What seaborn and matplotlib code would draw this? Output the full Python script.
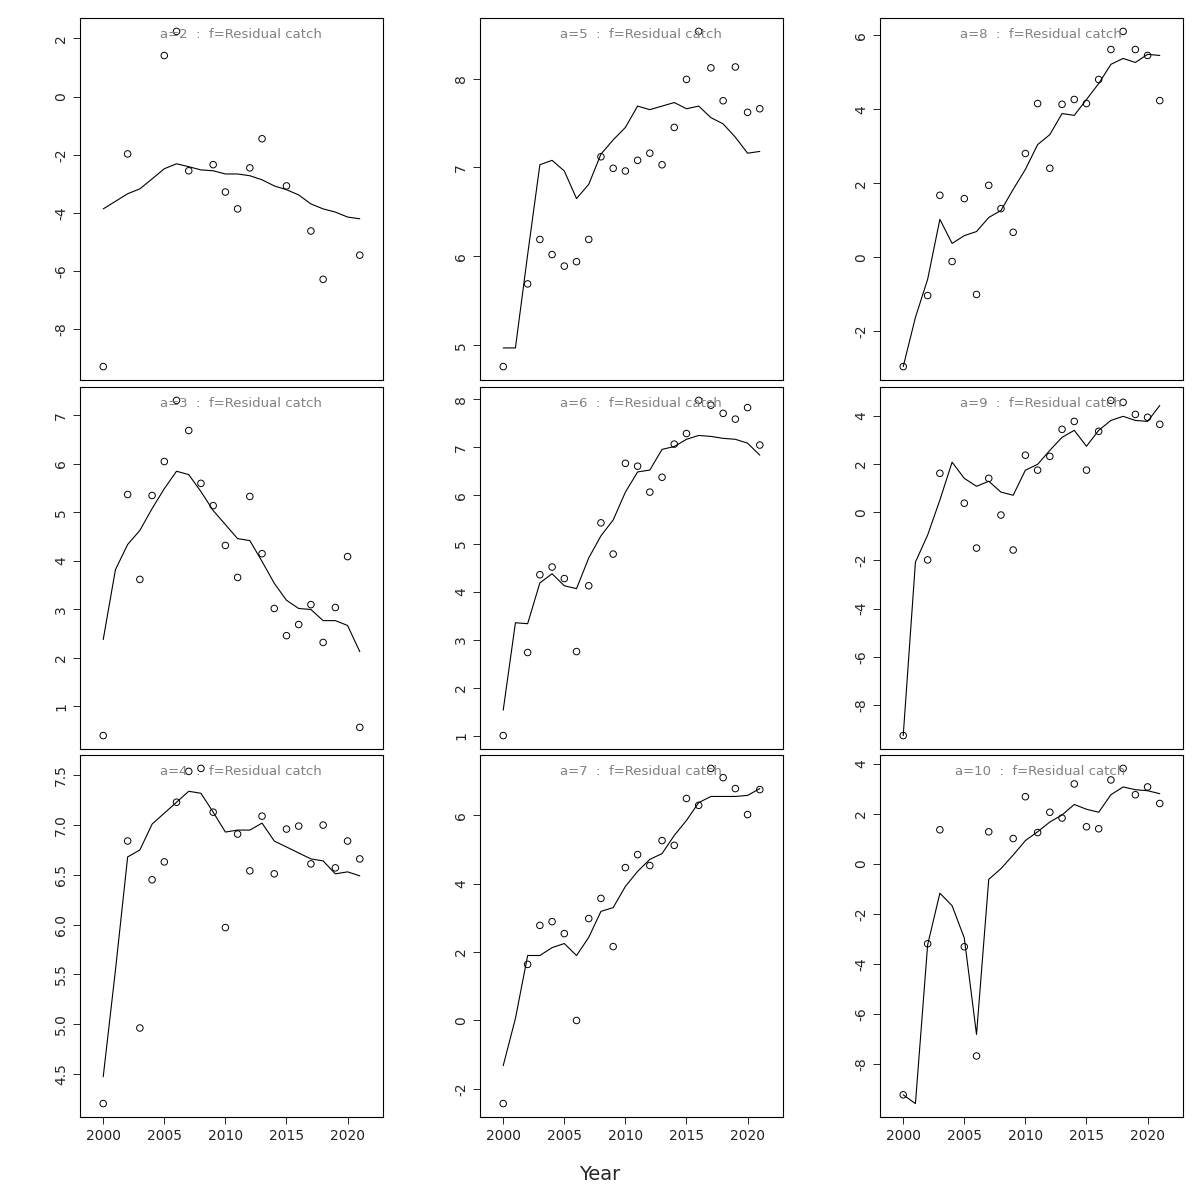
import matplotlib
matplotlib.use('Agg')
import matplotlib.pyplot as plt
import numpy as np
import pandas as pd
import seaborn as sns

sns.set_style('white')
plt.rcParams['font.family'] = ['DejaVu Sans']

years = list(range(2000, 2022))
nan = np.nan

# observed points per age (NaN = no observation)
obs = {
    2: [-9.28, nan, -1.97, nan, nan, 1.41, 2.24, -2.55, nan, -2.34, -3.28, -3.86, -2.45, -1.45, nan, -3.07, nan, -4.62, -6.28, nan, nan, -5.45],
    3: [0.40, nan, 5.37, 3.62, 5.35, 6.05, 7.31, 6.69, 5.60, 5.14, 4.32, 3.66, 5.33, 4.15, 3.02, 2.46, 2.69, 3.10, 2.32, 3.04, 4.09, 0.57],
    4: [4.20, nan, 6.84, 4.96, 6.45, 6.63, 7.23, 7.54, 7.57, 7.13, 5.97, 6.91, 6.54, 7.09, 6.51, 6.96, 6.99, 6.61, 7.00, 6.57, 6.84, 6.66],
    5: [4.76, nan, 5.69, 6.19, 6.02, 5.89, 5.94, 6.19, 7.12, 6.99, 6.96, 7.08, 7.16, 7.03, 7.45, 7.99, 8.53, 8.12, 7.75, 8.13, 7.62, 7.66],
    6: [1.00, nan, 2.73, 4.35, 4.51, 4.27, 2.75, 4.12, 5.43, 4.78, 6.67, 6.61, 6.07, 6.38, 7.07, 7.29, 7.98, 7.88, 7.71, 7.59, 7.83, 7.05],
    7: [-2.43, nan, 1.64, 2.78, 2.89, 2.54, 0.00, 2.98, 3.57, 2.16, 4.47, 4.85, 4.53, 5.26, 5.12, 6.49, 6.29, 7.37, 7.10, 6.78, 6.02, 6.75],
    8: [-2.95, nan, -1.03, 1.68, -0.11, 1.59, -1.00, 1.95, 1.32, 0.68, 2.81, 4.16, 2.41, 4.14, 4.27, 4.16, 4.81, 5.62, 6.11, 5.62, 5.46, 4.24],
    9: [-9.26, nan, -1.98, 1.61, nan, 0.37, -1.49, 1.40, -0.12, -1.57, 2.36, 1.74, 2.31, 3.43, 3.76, 1.74, 3.35, 4.63, 4.55, 4.05, 3.93, 3.64],
    10: [-9.22, nan, -3.19, 1.36, nan, -3.31, -7.67, 1.28, nan, 1.01, 2.68, 1.25, 2.06, 1.83, 3.19, 1.48, 1.40, 3.35, 3.81, 2.76, 3.07, 2.41],
}

# fitted line per age
fit = {
    2: [-3.86, -3.60, -3.34, -3.17, -2.83, -2.48, -2.31, -2.41, -2.52, -2.55, -2.66, -2.66, -2.72, -2.86, -3.07, -3.20, -3.38, -3.69, -3.86, -3.97, -4.14, -4.20],
    3: [2.38, 3.82, 4.34, 4.63, 5.08, 5.49, 5.85, 5.78, 5.43, 5.04, 4.75, 4.46, 4.42, 3.99, 3.54, 3.19, 3.02, 3.00, 2.77, 2.77, 2.67, 2.13],
    4: [4.47, 5.54, 6.68, 6.75, 7.01, 7.12, 7.23, 7.34, 7.32, 7.13, 6.93, 6.95, 6.95, 7.02, 6.84, 6.78, 6.72, 6.66, 6.64, 6.51, 6.53, 6.49],
    5: [4.97, 4.97, 6.02, 7.03, 7.08, 6.96, 6.65, 6.81, 7.15, 7.31, 7.45, 7.69, 7.65, 7.69, 7.73, 7.66, 7.69, 7.56, 7.49, 7.34, 7.16, 7.18],
    6: [1.53, 3.35, 3.33, 4.18, 4.37, 4.12, 4.06, 4.70, 5.16, 5.49, 6.07, 6.49, 6.53, 6.96, 7.02, 7.17, 7.25, 7.23, 7.19, 7.17, 7.09, 6.84],
    7: [-1.32, 0.06, 1.90, 1.90, 2.13, 2.25, 1.90, 2.43, 3.19, 3.30, 3.92, 4.36, 4.71, 4.88, 5.41, 5.85, 6.37, 6.55, 6.55, 6.55, 6.58, 6.78],
    8: [-2.95, -1.62, -0.59, 1.03, 0.38, 0.59, 0.70, 1.08, 1.27, 1.84, 2.38, 3.05, 3.32, 3.89, 3.84, 4.27, 4.70, 5.22, 5.38, 5.27, 5.49, 5.46],
    9: [-9.26, -2.07, -0.95, 0.50, 2.07, 1.40, 1.07, 1.28, 0.83, 0.70, 1.74, 1.98, 2.56, 3.10, 3.39, 2.73, 3.39, 3.80, 3.97, 3.80, 3.76, 4.42],
    10: [-9.22, -9.57, -3.23, -1.17, -1.67, -2.96, -6.81, -0.62, -0.19, 0.35, 0.93, 1.28, 1.67, 1.95, 2.37, 2.18, 2.06, 2.76, 3.07, 2.96, 2.92, 2.80],
}

yticks = {
    2: [-8, -6, -4, -2, 0, 2], 3: [1, 2, 3, 4, 5, 6, 7], 4: [4.5, 5.0, 5.5, 6.0, 6.5, 7.0, 7.5],
    5: [5, 6, 7, 8], 6: [1, 2, 3, 4, 5, 6, 7, 8], 7: [-2, 0, 2, 4, 6],
    8: [-2, 0, 2, 4, 6], 9: [-8, -6, -4, -2, 0, 2, 4], 10: [-8, -6, -4, -2, 0, 2, 4],
}

fig = plt.figure(figsize=(12, 12), dpi=100)
lefts = [80, 480, 880]
tops = [18, 387, 755]
W, H = 303, 362

for col in range(3):
    for row in range(3):
        age = 2 + col * 3 + row
        ax = fig.add_axes([lefts[col] / 1200, 1 - (tops[row] + H) / 1200, W / 1200, H / 1200])
        df = pd.DataFrame({'year': years, 'obs': obs[age], 'fit': fit[age]})
        sns.lineplot(data=df, x='year', y='fit', color='black', linewidth=0.8, ax=ax)
        sns.scatterplot(data=df.dropna(), x='year', y='obs', marker='o', s=22,
                        facecolors='none', edgecolor='black', linewidth=0.7, ax=ax)
        ax.set_xlim(1998.1, 2022.9)
        ax.margins(y=0.04)
        ax.set_yticks(yticks[age])
        ax.set_yticklabels([f'{t:g}' if isinstance(t, int) else f'{t:.1f}' for t in yticks[age]],
                           rotation=90, va='center', fontsize=10)
        ax.tick_params(axis='y', left=True, length=5, width=0.7)
        if row == 2:
            ax.set_xticks([2000, 2005, 2010, 2015, 2020])
            ax.tick_params(axis='x', bottom=True, length=5, width=0.7, labelsize=10)
        else:
            ax.set_xticks([])
        ax.set_xlabel('')
        ax.set_ylabel('')
        for sp in ax.spines.values():
            sp.set_color('black')
            sp.set_linewidth(0.8)
        ax.text(0.53, 0.955, f'a={age}  :  f=Residual catch', transform=ax.transAxes,
                ha='center', va='center', color='grey', fontsize=9.5)

fig.text(0.5, 1 - 1175 / 1200, 'Year', ha='center', va='center', fontsize=14)
fig.savefig('out.png', dpi=100)
